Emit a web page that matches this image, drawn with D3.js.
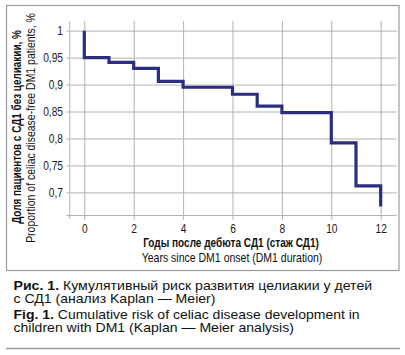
<!DOCTYPE html>
<html><head><meta charset="utf-8">
<script src="https://cdn.jsdelivr.net/npm/d3@7"></script>
<style>body{margin:0;background:#fff}svg{display:block}</style>
</head><body><svg id="c" width="405" height="355"></svg>
<script>
// ---- data ----
const times = [0, 0, 1, 2, 3, 4, 6, 7, 8, 10, 11, 12];
const survival = [1, 0.95, 0.941, 0.930, 0.906, 0.895, 0.882, 0.860, 0.848, 0.792, 0.712, 0.674];
const xTicks = [0, 2, 4, 6, 8, 10, 12];
const yTicks = [0.7, 0.75, 0.8, 0.85, 0.9, 0.95, 1];
const yTickLabels = ["0,7", "0,75", "0,8", "0,85", "0,9", "0,95", "1"];
const yTitleRu = "Доля пациентов с СД1 без целиакии, %";
const yTitleEn = "Proportion of celiac disease-free DM1 patients, %";
const xTitleRu = "Годы после дебюта СД1 (стаж СД1)";
const xTitleEn = "Years since DM1 onset (DM1 duration)";
const captionBold = ["Рис. 1.", "", "Fig. 1.", ""];
const captionText = [" Кумулятивный риск развития целиакии у детей", "с СД1 (анализ Kaplan — Meier)",
  " Cumulative risk of celiac disease development in", "children with DM1 (Kaplan — Meier analysis)"];

// ---- layout ----
const svg = d3.select("#c");
const FONT = "'Liberation Sans', Arial, Helvetica, sans-serif";
const plot = {l: 69.3, r: 396.7, t: 20.7, b: 215};
const x = d3.scaleLinear().domain([-0.607, 12.648]).range([plot.l, plot.r]);
const y = d3.scaleLinear().domain([0.658, 1.0185]).range([plot.b, plot.t]);
const gridCol = "#b3b3b3";
const cond = 0.85;

function fit(sel, w) {
  const L = sel.node().getComputedTextLength();
  sel.attr("transform", `scale(${w / L},1)`);
  return w / L;
}

svg.append("rect").attr("width", 405).attr("height", 355).attr("fill", "#fff");
// frame
svg.append("rect").attr("x", 6.5).attr("y", 5.5).attr("width", 392.5).attr("height", 265)
  .attr("fill", "none").attr("stroke", "#9c9c9c").attr("stroke-width", 1.2);
// bottom rule
svg.append("line").attr("x1", 6).attr("x2", 400).attr("y1", 348.5).attr("y2", 348.5)
  .attr("stroke", "#9c9c9c").attr("stroke-width", 1.5);

// y axis + horizontal grid
const gy = svg.append("g").attr("transform", `translate(${plot.l},0)`)
  .call(d3.axisLeft(y).tickValues(yTicks).tickFormat((d, i) => yTickLabels[i])
    .tickSize(-(plot.r - plot.l)).tickSizeOuter(0));
gy.select(".domain").attr("stroke", gridCol);
gy.selectAll(".tick line").attr("stroke", gridCol).attr("x1", -3);
gy.selectAll(".tick text").attr("font-family", FONT).attr("font-size", 12).attr("fill", "#1a1a1a")
  .attr("x", -6.3 / cond).attr("transform", `scale(${cond},1)`);

// x axis + vertical grid
const gx = svg.append("g").attr("transform", `translate(0,${plot.b})`)
  .call(d3.axisBottom(x).tickValues(xTicks).tickFormat(d3.format("d"))
    .tickSize(-(plot.b - plot.t)).tickSizeOuter(0));
gx.select(".domain").attr("stroke", gridCol).attr("d", `M${plot.l - 3},0.5H${plot.r}`);
gx.selectAll(".tick line").attr("stroke", gridCol).attr("y1", 5);
gx.selectAll(".tick text").attr("font-family", FONT).attr("font-size", 12).attr("fill", "#1a1a1a")
  .attr("dy", null).attr("y", 17.7)
  .attr("transform", `scale(${cond},1)`);
gx.append("line").attr("x1", plot.l).attr("x2", plot.l).attr("y1", 0).attr("y2", 4).attr("stroke", gridCol);

// step line
const pts = times.map((t, i) => [t, survival[i]]);
svg.append("path").datum(pts)
  .attr("d", d3.line().x(d => x(d[0])).y(d => y(d[1])).curve(d3.curveStepAfter))
  .attr("fill", "none").attr("stroke", "#2b2e80").attr("stroke-width", 3.2)
  .attr("stroke-linejoin", "miter").attr("stroke-linecap", "butt");

// axis titles
function title(str, tx, ty, w, bold, rot) {
  const g = svg.append("g").attr("transform", `translate(${tx},${ty})` + (rot ? " rotate(-90)" : ""));
  const t = g.append("text").attr("text-anchor", "middle").attr("font-family", FONT)
    .attr("font-size", 12).attr("font-weight", bold ? "bold" : "normal").attr("fill", "#111").text(str);
  fit(t, w);
}
title(xTitleRu, 231, 246.5, 176, true, false);
title(xTitleEn, 232, 262, 181, false, false);
title(yTitleRu, 20.8, 127, 194, true, true);
title(yTitleEn, 35.2, 128, 230, false, true);

// caption
const capY = [290.2, 302.9, 319.0, 331.9];
const capTexts = captionText.map((s, i) => {
  const g = svg.append("g").attr("transform", `translate(13.5,${capY[i]})`);
  const t = g.append("text").attr("font-family", FONT).attr("font-size", 12.2).attr("fill", "#111");
  if (captionBold[i]) t.append("tspan").attr("font-weight", "bold").text(captionBold[i]);
  t.append("tspan").text(s);
  return t;
});
const s1 = fit(capTexts[0], 358.5);
const s3 = fit(capTexts[2], 346);
const sAvg = (s1 + s3) / 2;
capTexts[1].attr("transform", `scale(${sAvg},1)`);
capTexts[3].attr("transform", `scale(${sAvg},1)`);
</script>
</body></html>
